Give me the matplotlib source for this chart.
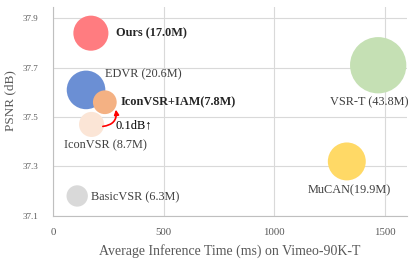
import matplotlib
matplotlib.use("Agg")
import matplotlib.pyplot as plt

names = ["Ours (17.0M)", "EDVR (20.6M)", "IconVSR (8.7M)", "IconVSR+IAM(7.8M)",
         "VSR-T (43.8M)", "MuCAN(19.9M)", "BasicVSR (6.3M)"]
times = [170, 148, 173, 233, 1470, 1328, 108]
psnr = [37.84, 37.61, 37.47, 37.56, 37.71, 37.32, 37.18]
params = [17.0, 20.6, 8.7, 7.8, 43.8, 19.9, 6.3]
colors = ["#FF7C80", "#6B8FD4", "#FBE5D6", "#F4B183", "#C5E0B4", "#FFD966", "#D9D9D9"]
xticks = [0, 500, 1000, 1500]
yticks = [37.1, 37.3, 37.5, 37.7, 37.9]

plt.rcParams['font.family'] = ['Liberation Serif', 'DejaVu Serif']

fig = plt.figure(figsize=(4.15, 2.61), dpi=100)
ax = fig.add_axes([0.1285, 0.1736, 0.852, 0.8004])

sizes = [p * 37.5 for p in params]
ax.scatter(times, psnr, s=sizes, c=colors, edgecolors='none', zorder=3)

txtc = "#404040"
offs = {
    0: (18, 0, 'bold'),
    1: (14, 11.5, 'normal'),
    2: (-19.5, -15, 'normal'),
    3: (11, 0, 'bold'),
    4: (-35, -26.5, 'normal'),
    5: (-28.5, -20.5, 'normal'),
    6: (10, -0.7, 'normal'),
}
for i, n in enumerate(names):
    dx, dy, w = offs[i]
    ax.annotate(n, (times[i], psnr[i]), xytext=(dx, dy), textcoords='offset points',
                ha='left', va='center', fontsize=8.8, fontweight=w,
                color='#262626' if w == 'bold' else txtc, zorder=5)

ax.annotate("", xy=(283, 37.53), xytext=(224, 37.462),
            arrowprops=dict(arrowstyle='-|>', color='red', lw=1.2, shrinkA=0, shrinkB=0,
                            connectionstyle='arc3,rad=0.5', mutation_scale=7),
            zorder=6)
ax.text(281, 37.465, "0.1dB\u2191", fontsize=9, color='black', ha='left', va='center', zorder=6)

ax.set_xlim(0, 1600)
ax.set_ylim(37.1, 37.947)
ax.set_xticks(xticks)
ax.set_yticks(yticks)
ax.set_yticklabels([f"{v:.1f}" for v in yticks])
ax.grid(True, color='#D9D9D9', lw=0.8, zorder=0)
ax.set_axisbelow(True)
for s in ['top', 'right']:
    ax.spines[s].set_visible(False)
for s in ['left', 'bottom']:
    ax.spines[s].set_color('#BFBFBF')
    ax.spines[s].set_linewidth(0.8)
ax.tick_params(length=0, labelcolor='#595959')
ax.tick_params(axis='x', labelsize=7.8, pad=9)
ax.tick_params(axis='y', labelsize=6.5, pad=11)
ax.set_xlabel("Average Inference Time (ms) on Vimeo-90K-T", fontsize=10, color='#595959', labelpad=5)
ax.set_ylabel("PSNR (dB)", fontsize=9.5, color='#595959')
ax.yaxis.set_label_coords(-0.105, 0.55)

fig.savefig("out.png", dpi=100)
